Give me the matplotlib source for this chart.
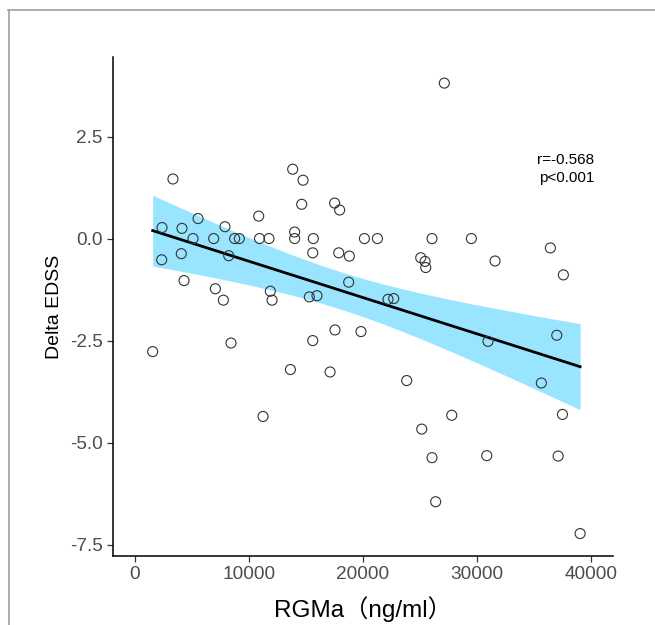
import numpy as np
import matplotlib
matplotlib.use("Agg")
import matplotlib.pyplot as plt
from matplotlib.lines import Line2D

# RGMa (ng/ml) and Delta EDSS
rgma = [3330, 13830, 14740, 14620, 17510, 17950, 10850, 5530, 2370, 4120,
        7890, 5090, 6900, 8740, 9150, 10920, 11750, 14000, 14000, 15640,
        20120, 2340, 4060, 8220, 15590, 17870, 18800, 4300, 7050, 7750,
        18740, 11870, 12020, 15290, 15960, 27130, 21260, 26050, 29500, 36430,
        25060, 25440, 25500, 31580, 37570, 22190, 22690, 17540, 19820, 1550,
        8420, 15590, 13630, 17110, 11230, 30960, 36990, 35640, 23830, 27780,
        37490, 25150, 26050, 30850, 37110, 26370, 39040]
delta_edss = [1.46, 1.70, 1.43, 0.84, 0.87, 0.70, 0.55, 0.49, 0.27, 0.25,
              0.29, 0.0, 0.0, 0.0, 0.0, 0.0, 0.0, 0.16, 0.0, 0.0,
              0.0, -0.52, -0.37, -0.42, -0.35, -0.35, -0.43, -1.03, -1.23, -1.51,
              -1.07, -1.29, -1.51, -1.43, -1.40, 3.81, 0.0, 0.0, 0.0, -0.23,
              -0.47, -0.56, -0.71, -0.55, -0.89, -1.49, -1.47, -2.24, -2.28, -2.77,
              -2.56, -2.50, -3.21, -3.27, -4.36, -2.52, -2.37, -3.54, -3.48, -4.33,
              -4.31, -4.67, -5.37, -5.32, -5.33, -6.45, -7.23]
x_ticks = [0, 10000, 20000, 30000, 40000]
y_ticks = [2.5, 0.0, -2.5, -5.0, -7.5]
note = "r=-0.568\np<0.001"

x = np.array(rgma, dtype=float)
y = np.array(delta_edss, dtype=float)

# linear fit with 95% confidence band (like geom_smooth(method="lm"))
n = len(x)
b1, b0 = np.polyfit(x, y, 1)
xs = np.linspace(x.min(), x.max(), 200)
ys = b0 + b1 * xs
resid = y - (b0 + b1 * x)
s = np.sqrt(np.sum(resid ** 2) / (n - 2))
se = s * np.sqrt(1 / n + (xs - x.mean()) ** 2 / np.sum((x - x.mean()) ** 2))
tval = 1.997
lo, hi = ys - tval * se, ys + tval * se

fig = plt.figure(figsize=(6.55, 6.25), dpi=100)
ax = fig.add_axes([0.1725, 0.1104, 0.7635, 0.7984])

ax.fill_between(xs, lo, hi, color="#99E5FF", linewidth=0, zorder=1)
ax.plot(xs, ys, color="black", linewidth=2.0, zorder=2)
ax.scatter(x, y, s=52, facecolors="none", edgecolors="#333333",
           linewidths=0.8, zorder=3)

ax.set_xlim(-1930, 41930)
ax.set_ylim(-7.78, 4.45)
ax.set_xticks(x_ticks)
ax.set_yticks(y_ticks)
ax.set_xticklabels([str(v) for v in x_ticks])
ax.set_yticklabels([f"{v:.1f}" for v in y_ticks])

for side in ["top", "right"]:
    ax.spines[side].set_visible(False)
for side in ["left", "bottom"]:
    ax.spines[side].set_linewidth(1.1)
ax.tick_params(length=4, width=0.9, color="#333333", labelcolor="#4D4D4D",
               labelsize=13.7)
for lab in ax.get_xticklabels() + ax.get_yticklabels():
    lab.set_family("Liberation Sans")

ax.set_ylabel("Delta EDSS", fontsize=14, family="Liberation Sans", labelpad=5)
ax.set_xlabel("RGMa（ng/ml）", fontsize=17.5,
              family=["Liberation Sans", "Noto Sans CJK SC"], labelpad=9)

ax.text(0.962, 0.775, note, transform=ax.transAxes, ha="right", va="center",
        fontsize=11, family="Liberation Sans", linespacing=1.4)

# light gray frame lines at top and left edges of the image
fig.add_artist(Line2D([8 / 655, 1], [1 - 10 / 625, 1 - 10 / 625],
                      color="#A0A0A0", linewidth=1.2, transform=fig.transFigure))
fig.add_artist(Line2D([9 / 655, 9 / 655], [0, 1 - 10 / 625],
                      color="#A0A0A0", linewidth=1.2, transform=fig.transFigure))

fig.savefig("out.png", dpi=100, facecolor="white")
